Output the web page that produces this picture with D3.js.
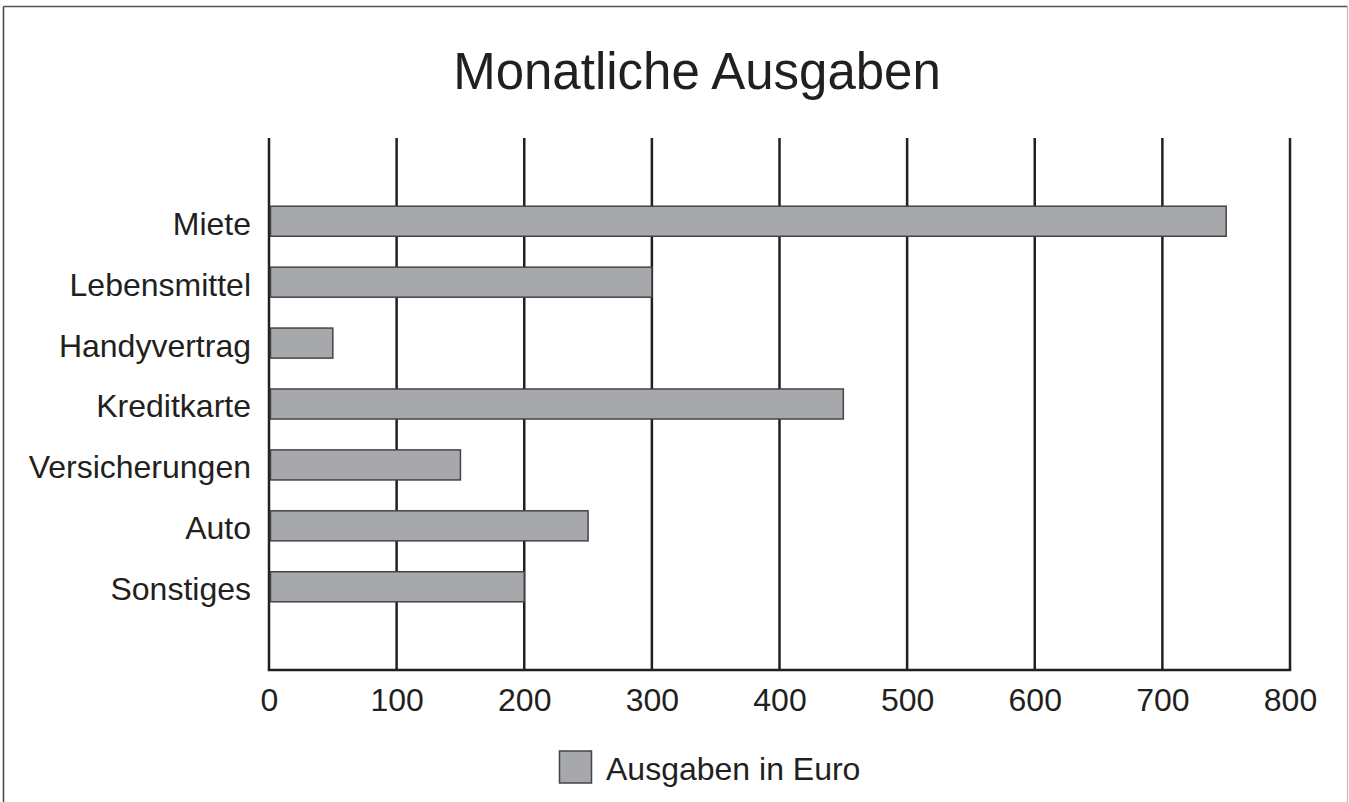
<!DOCTYPE html>
<html>
<head>
<meta charset="utf-8">
<script src="https://cdn.jsdelivr.net/npm/d3@7"></script>
<style>
    body { margin: 0; background: #fff; }
    text { font-family: "Liberation Sans", Arial, sans-serif; fill: #231f20; }
</style>
</head>
<body>
<svg id="graph" width="1349" height="802"></svg>
<script>
// datos del grafico
const categorias = ["Miete", "Lebensmittel", "Handyvertrag", "Kreditkarte", "Versicherungen", "Auto", "Sonstiges"];
const ausgaben = [750, 300, 50, 450, 150, 250, 200];
const ticksX = [0, 100, 200, 300, 400, 500, 600, 700, 800];
const titulo = "Monatliche Ausgaben";
const leyenda = "Ausgaben in Euro";

const data = categorias.map((c, i) => ({ cat: c, valor: ausgaben[i] }));

let svg = d3.select("#graph");
var margin = { top: 138, right: 59, bottom: 132, left: 269 };
var width = +svg.attr("width") - margin.left - margin.right;
var height = +svg.attr("height") - margin.top - margin.bottom;

// marco de la imagen
svg.append("line").attr("x1", 3.5).attr("x2", 3.5).attr("y1", 6.5).attr("y2", 802)
    .attr("stroke", "#444").attr("stroke-width", 1.5);
svg.append("line").attr("x1", 3.5).attr("x2", 1347.5).attr("y1", 6.5).attr("y2", 6.5)
    .attr("stroke", "#555").attr("stroke-width", 1.5);
svg.append("line").attr("x1", 1347.5).attr("x2", 1347.5).attr("y1", 6.5).attr("y2", 802)
    .attr("stroke", "#bbb").attr("stroke-width", 1.2);

var g = svg.append("g").attr("transform", "translate(" + margin.left + "," + margin.top + ")");

var x = d3.scaleLinear().domain([0, 800]).range([0, width]);
var y = d3.scaleBand().domain(categorias).range([0, height])
    .paddingInner(0.507).paddingOuter(1.12);

// titulo
svg.append("text")
    .attr("x", 697).attr("y", 89)
    .attr("text-anchor", "middle")
    .style("font-size", "51px")
    .text(titulo);

// lineas de la grilla
g.append("g").selectAll("line")
    .data(ticksX)
    .enter().append("line")
    .attr("x1", d => x(d)).attr("x2", d => x(d))
    .attr("y1", 0).attr("y2", height)
    .attr("stroke", "#231f20").attr("stroke-width", 2.5);

// barras
g.append("g").selectAll("rect")
    .data(data)
    .enter().append("rect")
    .attr("x", x(0) + 1.5)
    .attr("y", d => y(d.cat))
    .attr("width", d => x(d.valor) - x(0) - 1.5)
    .attr("height", y.bandwidth())
    .attr("fill", "#a7a8ab")
    .attr("stroke", "#444")
    .attr("stroke-width", 1.5);

// eje X
var xAxis = g.append("g")
    .attr("transform", "translate(0," + height + ")")
    .call(d3.axisBottom(x).tickValues(ticksX).tickSize(0).tickPadding(18));
xAxis.select(".domain").attr("stroke", "#231f20").attr("stroke-width", 2.5)
    .attr("d", "M" + (-1.25) + ",0H" + (width + 1.25));
xAxis.selectAll("text").style("font-size", "32px").attr("fill", "#231f20");

// eje Y (solo etiquetas)
var yAxis = g.append("g")
    .call(d3.axisLeft(y).tickSize(0).tickPadding(18));
yAxis.select(".domain").remove();
yAxis.selectAll("text").style("font-size", "32px").attr("fill", "#231f20")
    .attr("dy", "0.42em");

// leyenda
svg.append("rect")
    .attr("x", 559.5).attr("y", 751)
    .attr("width", 32).attr("height", 32)
    .attr("fill", "#a7a8ab").attr("stroke", "#444").attr("stroke-width", 1.5);
svg.append("text")
    .attr("x", 606).attr("y", 780)
    .style("font-size", "32px")
    .text(leyenda);
</script>
</body>
</html>
